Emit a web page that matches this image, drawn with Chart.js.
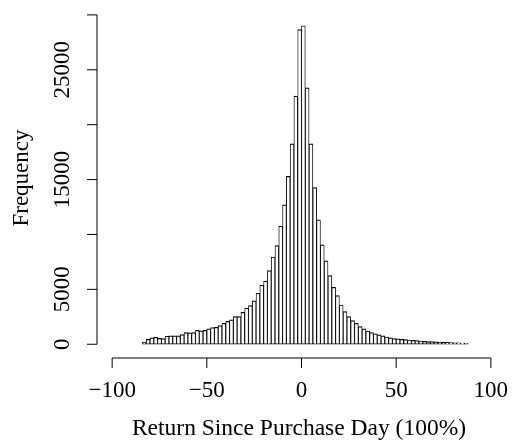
<!DOCTYPE html>
<html>
<head>
<meta charset="utf-8">
<script src="https://cdn.jsdelivr.net/npm/chart.js@4/dist/chart.umd.min.js"></script>
<style>
  html, body { margin: 0; padding: 0; background: #fff; }
  #histo { display: block; }
</style>
</head>
<body>
<canvas id="histo" width="513" height="445"></canvas>
<script>
// Histograma: bins de 2 punts, de -84 a 88
const binCenters = [
  -83, -81, -79, -77, -75, -73, -71, -69, -67, -65,
  -63, -61, -59, -57, -55, -53, -51, -49, -47, -45,
  -43, -41, -39, -37, -35, -33, -31, -29, -27, -25,
  -23, -21, -19, -17, -15, -13, -11, -9, -7, -5,
  -3, -1, 1, 3, 5, 7, 9, 11, 13, 15,
  17, 19, 21, 23, 25, 27, 29, 31, 33, 35,
  37, 39, 41, 43, 45, 47, 49, 51, 53, 55,
  57, 59, 61, 63, 65, 67, 69, 71, 73, 75,
  77, 79, 81, 83, 85, 87
];
const frequencies = [
  200, 455, 575, 635, 545, 515, 730, 760, 760, 760,
  880, 1065, 1035, 1065, 1275, 1215, 1275, 1395, 1515, 1545,
  1700, 1910, 2095, 2215, 2515, 2515, 2915, 3280, 3520, 3960,
  4650, 5390, 5750, 6710, 7950, 8990, 10770, 12690, 15300, 18255,
  22600, 28650, 29010, 23360, 18255, 14270, 11330, 9050, 7590, 6250,
  5190, 4430, 3580, 2970, 2515, 2150, 1910, 1605, 1395, 1210,
  1060, 940, 850, 760, 665, 575, 515, 485, 455, 420,
  390, 360, 330, 300, 270, 250, 240, 220, 200, 190,
  170, 160, 140, 130, 110, 90
];
const xTicks = [-100, -50, 0, 50, 100];
const xTickLabels = ['\u2212100', '\u221250', '0', '50', '100'];
const yTicks = [0, 5000, 10000, 15000, 20000, 25000, 30000];
const yTickLabels = ['0', '5000', '', '15000', '', '25000', ''];
const xTitle = 'Return Since Purchase Day (100%)';
const yTitle = 'Frequency';

const FONT = '23px "Liberation Serif", "Times New Roman", serif';

// Eixos a l'estil R (línia només entre el primer i l'últim tick)
const rAxes = {
  id: 'rAxes',
  afterDraw(chart) {
    const { ctx, chartArea, scales: { x, y } } = chart;
    ctx.save();
    ctx.strokeStyle = '#000';
    ctx.fillStyle = '#000';
    ctx.lineWidth = 1;
    ctx.font = FONT;

    // Eix X
    const yAxis = chartArea.bottom + 1;
    ctx.beginPath();
    ctx.moveTo(x.getPixelForValue(xTicks[0]), yAxis);
    ctx.lineTo(x.getPixelForValue(xTicks[xTicks.length - 1]), yAxis);
    xTicks.forEach(v => {
      const px = x.getPixelForValue(v);
      ctx.moveTo(px, yAxis);
      ctx.lineTo(px, yAxis + 10);
    });
    ctx.stroke();
    ctx.textAlign = 'center';
    ctx.textBaseline = 'middle';
    xTicks.forEach((v, i) => {
      ctx.fillText(xTickLabels[i], x.getPixelForValue(v), yAxis + 33);
    });
    ctx.font = '23.5px "Liberation Serif", "Times New Roman", serif';
    ctx.fillText(xTitle, 299, yAxis + 71);
    ctx.font = FONT;

    // Eix Y
    const xAxis = chartArea.left;
    ctx.beginPath();
    ctx.moveTo(xAxis, y.getPixelForValue(yTicks[0]));
    ctx.lineTo(xAxis, y.getPixelForValue(yTicks[yTicks.length - 1]));
    yTicks.forEach(v => {
      const py = y.getPixelForValue(v);
      ctx.moveTo(xAxis, py);
      ctx.lineTo(xAxis - 10, py);
    });
    ctx.stroke();
    yTicks.forEach((v, i) => {
      if (!yTickLabels[i]) return;
      ctx.save();
      ctx.translate(xAxis - 34, y.getPixelForValue(v));
      ctx.rotate(-Math.PI / 2);
      ctx.fillText(yTickLabels[i], 0, 0);
      ctx.restore();
    });
    ctx.save();
    ctx.translate(22, 178);
    ctx.rotate(-Math.PI / 2);
    ctx.fillText(yTitle, 0, 0);
    ctx.restore();

    ctx.restore();
  }
};

const ctx = document.getElementById('histo').getContext('2d');
new Chart(ctx, {
  type: 'bar',
  data: {
    datasets: [{
      data: binCenters.map((c, i) => ({ x: c, y: frequencies[i] })),
      backgroundColor: '#ffffff',
      borderColor: '#000000',
      borderWidth: { top: 1.2, left: 0.9, right: 0.9, bottom: 1 },
      borderSkipped: false,
      barPercentage: 1,
      categoryPercentage: 1
    }]
  },
  options: {
    responsive: false,
    devicePixelRatio: 1,
    animation: false,
    layout: { padding: { left: 97, right: 7, top: 13, bottom: 88 } },
    plugins: {
      legend: { display: false },
      tooltip: { enabled: false }
    },
    scales: {
      x: { type: 'linear', min: -108, max: 108, offset: false, display: false },
      y: { min: -1160, max: 30170, display: false }
    }
  },
  plugins: [rAxes]
});
</script>
</body>
</html>
